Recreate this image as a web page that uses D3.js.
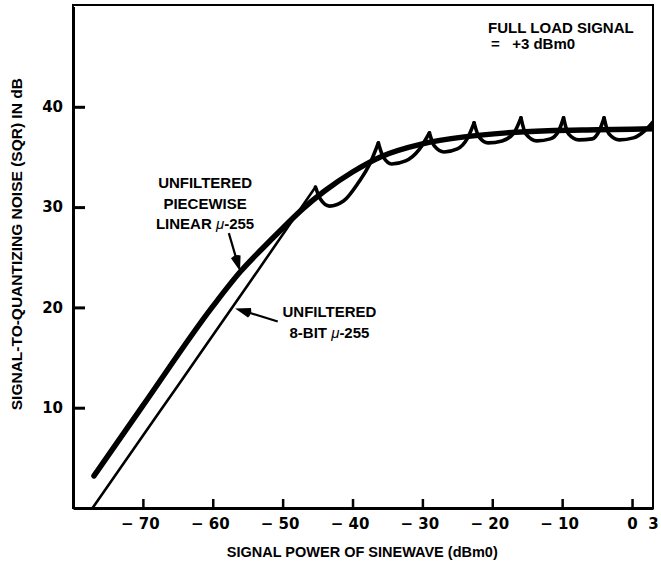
<!DOCTYPE html>
<html>
<head>
<meta charset="utf-8">
<script src="https://cdn.jsdelivr.net/npm/d3@7"></script>
<style>
  body { margin: 0; background: #fff; }
  text { font-family: "Liberation Sans", Arial, sans-serif; font-weight: bold; fill: #000; }
</style>
</head>
<body>
<div id="chart"></div>
<script>
// Tick values and labels
const xTicks = [-70, -60, -50, -40, -30, -20, -10, 0, 3];
const xTickLabels = ["\u2212 70", "\u2212 60", "\u2212 50", "\u2212 40", "\u2212 30", "\u2212 20", "\u2212 10", "0", "3"];
const yTicks = [10, 20, 30, 40];

// Unfiltered piecewise linear mu-255 (smooth heavy curve)
const pwlX = [-77, -70, -60, -56, -53, -50, -47, -44, -40, -36, -30, -24, -18, -12, -5, 3];
const pwlY = [3.2, 10.2, 20.1, 23.6, 25.8, 27.9, 29.9, 31.6, 33.5, 35.0, 36.3, 37.0, 37.4, 37.6, 37.7, 37.8];

// Unfiltered 8-bit mu-255 (scalloped curve)
const bitX = [-77.2, -65, -55, -45.3,
  -44.6, -43.3, -41.3, -39.2, -37.4, -36.3,
  -35.6, -34.4, -32.4, -30.5, -29.0,
  -28.3, -26.9, -25.0, -23.6, -22.6,
  -21.9, -20.6, -18.6, -16.9, -15.9,
  -15.2, -13.6, -11.7, -10.5, -9.8,
  -9.1, -7.6, -5.7, -4.7, -4.0,
  -3.3, -1.8, 0.2, 1.8, 3.0];
const bitY = [0, 12.2, 22.2, 32.0,
  30.8, 30.1, 30.6, 32.4, 34.5, 36.4,
  35.0, 34.3, 34.6, 35.7, 37.4,
  36.1, 35.5, 35.8, 36.8, 38.4,
  37.0, 36.4, 36.6, 37.4, 38.9,
  37.3, 36.6, 36.8, 37.6, 38.9,
  37.3, 36.7, 36.8, 37.6, 38.9,
  37.3, 36.7, 36.9, 37.6, 38.5];
// segment corners (sharp peaks) of the 8-bit curve
const cuspX = [-45.3, -36.3, -29.0, -22.6, -15.9, -9.8, -4.0];

const width = 661;
const height = 561;
const margin = { top: 6.5, right: 8, bottom: 53, left: 73 };

const svg = d3.select("#chart")
  .append("svg")
  .attr("width", width)
  .attr("height", height);

const x = d3.scaleLinear()
  .domain([-80, 3])
  .range([margin.left, width - margin.right]);

const y = d3.scaleLinear()
  .domain([0, 50])
  .range([height - margin.bottom, margin.top]);

// Clip lines to the plot frame
svg.append("clipPath")
  .attr("id", "plot")
  .append("rect")
  .attr("x", x(-80))
  .attr("y", y(50) - 2)
  .attr("width", x(3) - x(-80))
  .attr("height", y(0) - y(50) + 2);

// Frame
svg.append("rect")
  .attr("x", x(-80))
  .attr("y", y(50) - 1.5)
  .attr("width", x(3) - x(-80))
  .attr("height", y(0) - y(50) + 1.5)
  .attr("fill", "none")
  .attr("stroke", "#000")
  .attr("stroke-width", 2);

// x axis, ticks pointing inward
const xAxis = svg.append("g")
  .attr("transform", `translate(0, ${y(0)})`)
  .call(d3.axisBottom(x)
    .tickValues(xTicks)
    .tickSizeInner(-9)
    .tickSizeOuter(0)
    .tickPadding(18)
    .tickFormat((d, i) => xTickLabels[i]));
xAxis.select(".domain").attr("stroke-width", 3);
xAxis.selectAll(".tick line").attr("stroke-width", 2.5)
  .attr("display", d => d === 3 ? "none" : null);
xAxis.selectAll(".tick text")
  .style("font-size", "15px")
  .style("font-family", "'DejaVu Sans', sans-serif")
  .style("font-weight", "bold")
  .attr("dy", "0.2em")
  .attr("dx", d => d < 0 ? "-3" : 0);

// y axis, ticks pointing inward
const yAxis = svg.append("g")
  .attr("transform", `translate(${x(-80)}, 0)`)
  .call(d3.axisLeft(y)
    .tickValues(yTicks)
    .tickSizeInner(-12)
    .tickSizeOuter(0)
    .tickPadding(10)
    .tickFormat(d3.format("d")));
yAxis.select(".domain").attr("stroke-width", 3);
yAxis.selectAll(".tick line").attr("stroke-width", 3);
yAxis.selectAll(".tick text")
  .style("font-size", "15px")
  .style("font-family", "'DejaVu Sans', sans-serif")
  .style("font-weight", "bold");

// Line generator
const line = d3.line()
  .x(d => x(d[0]))
  .y(d => y(d[1]))
  .curve(d3.curveMonotoneX);

const plot = svg.append("g").attr("clip-path", "url(#plot)");

// Heavy smooth curve
plot.append("path")
  .datum(d3.zip(pwlX, pwlY))
  .attr("d", line)
  .attr("fill", "none")
  .attr("stroke", "#000")
  .attr("stroke-width", 5.5)
  .attr("stroke-linecap", "round");

// Scalloped curve, drawn piece by piece so the peaks stay sharp
const bitPts = d3.zip(bitX, bitY);
const pieces = [];
let cur = [];
bitPts.forEach(p => {
  cur.push(p);
  if (cuspX.includes(p[0])) {
    pieces.push(cur);
    cur = [p];
  }
});
pieces.push(cur);

plot.selectAll(".bit")
  .data(pieces)
  .enter()
  .append("path")
  .attr("class", "bit")
  .attr("d", line)
  .attr("fill", "none")
  .attr("stroke", "#000")
  .attr("stroke-width", (d, i) => i === 0 ? 2.6 : 3.6)
  .attr("stroke-linejoin", "round")
  .attr("stroke-linecap", "round");

// Axis titles
svg.append("text")
  .attr("transform", `translate(22, ${y(26.3)}) rotate(-90)`)
  .attr("text-anchor", "middle")
  .style("font-size", "15.5px")
  .text("SIGNAL-TO-QUANTIZING NOISE (SQR) IN dB");

svg.append("text")
  .attr("x", x(-38.6))
  .attr("y", 557)
  .attr("text-anchor", "middle")
  .style("font-size", "14.5px")
  .text("SIGNAL POWER OF SINEWAVE (dBm0)");

// Annotations
function label(lines, cx, cy, anchor) {
  const t = svg.append("text")
    .attr("text-anchor", anchor)
    .style("font-size", "15px");
  lines.forEach((l, i) => {
    const ts = t.append("tspan")
      .attr("x", x(cx))
      .attr("y", y(cy) + 5 + i * 20.5);
    if (l.includes("\u03bc")) {
      const parts = l.split("\u03bc");
      ts.append("tspan").text(parts[0]);
      ts.append("tspan").style("font-style", "italic").style("font-weight", "normal").text("\u03bc");
      ts.append("tspan").text(parts[1]);
    } else {
      ts.text(l);
    }
  });
}

label(["UNFILTERED", "PIECEWISE", "LINEAR \u03bc-255"], -61.1, 32.4, "middle");
label(["UNFILTERED", "8-BIT \u03bc-255"], -43.3, 19.5, "middle");

svg.append("text")
  .attr("x", x(-20.6))
  .attr("y", y(50) + 26)
  .style("font-size", "15px")
  .text("FULL LOAD SIGNAL");
svg.append("text")
  .attr("x", x(-20.2))
  .attr("y", y(50) + 42)
  .style("font-size", "15px")
  .text("=\u00a0\u00a0\u00a0+3 dBm0");

// Arrows with filled heads
function arrow(x1, y1, x2, y2) {
  const px1 = x(x1), py1 = y(y1), px2 = x(x2), py2 = y(y2);
  const dx = px2 - px1, dy = py2 - py1;
  const len = Math.hypot(dx, dy);
  const ux = dx / len, uy = dy / len;
  const hl = 15, hw = 5;
  const bx = px2 - ux * hl, by = py2 - uy * hl;
  svg.append("line")
    .attr("x1", px1).attr("y1", py1)
    .attr("x2", bx).attr("y2", by)
    .attr("stroke", "#000")
    .attr("stroke-width", 2.2);
  svg.append("path")
    .attr("d", `M${px2},${py2}L${bx - uy * hw},${by + ux * hw}Q${bx - ux * 3},${by - uy * 3} ${bx + uy * hw},${by - ux * hw}Z`)
    .attr("fill", "#000");
}

arrow(-57.7, 27.4, -56.1, 23.6);
arrow(-50.7, 18.6, -56.8, 19.9);
</script>
</body>
</html>
